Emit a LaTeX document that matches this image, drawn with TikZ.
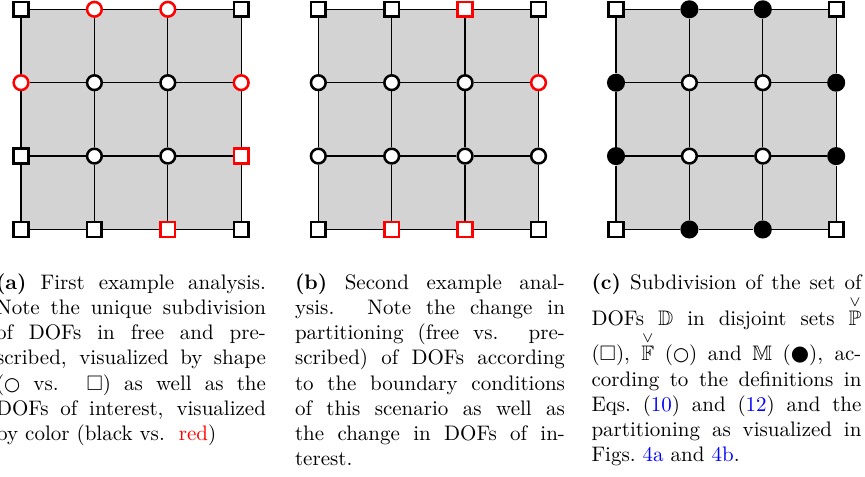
\documentclass[tikz,border=0pt]{standalone}
\usepackage{fontspec}
\usepackage{amsmath,amssymb}
\usetikzlibrary{backgrounds}

\newfontfamily\symbfont{DejaVu Sans}
\definecolor{meshgray}{RGB}{211,211,211}

\newcommand{\nodescl}{1}
\newcommand{\edgescl}{73.4}
\newcommand{\pn}{\node[rectangle, draw, line width=1.2pt, minimum size=7pt, inner sep=0pt, fill=white, scale=\nodescl]}
\newcommand{\fn}{\node[circle, draw, line width=1.2pt, minimum size=7pt, inner sep=0pt, fill=white, scale=\nodescl]}
\newcommand{\mn}{\node[circle, fill=black, minimum size=8.6pt, inner sep=0pt, scale=\nodescl]}
\newcommand{\Pn}{\pn[draw=red]}
\newcommand{\Fn}{\fn[draw=red]}
\newcommand{\coordscl}[1] {#1*\edgescl}

% gray cells and mesh lines of one 4x4 grid, nodes #10 .. #115
\newcommand{\meshfill}[1]{\begin{scope}[on background layer]
    \fill[meshgray] (#10.center) rectangle (#115.center);
  \end{scope}}
\newcommand{\meshedges}[1]{\draw[line width=0.6pt]
    (#10) -- (#11)  (#11) -- (#12)  (#12) -- (#13)
    (#14) -- (#15)  (#15) -- (#16)  (#16) -- (#17)
    (#18) -- (#19)  (#19) -- (#110) (#110) -- (#111)
    (#112) -- (#113) (#113) -- (#114) (#114) -- (#115)
    (#10) -- (#14)  (#14) -- (#18)  (#18) -- (#112)
    (#11) -- (#15)  (#15) -- (#19)  (#19) -- (#113)
    (#12) -- (#16)  (#16) -- (#110) (#110) -- (#114)
    (#13) -- (#17)  (#17) -- (#111) (#111) -- (#115)
    ;}

\newcommand{\ocirc}{\scalebox{0.88}{\symbfont\bfseries ○}}
\newcommand{\bcirc}{{\symbfont ●}}

\tikzset{captext/.style={anchor=north, inner sep=0pt, text width=128.5pt, align=justify, font=\normalsize}}

\begin{document}
\begin{tikzpicture}[x=0.476pt, y=0.476pt]
            \useasboundingbox (0,0) rectangle (865,477);

            % (a) first analysis
            \begin{scope}[shift={(21,247.5)}]
            \pn (a0) at (\coordscl{0}, \coordscl{0}) {};
            \pn (a1) at (\coordscl{1}, \coordscl{0}) {};
            \Pn (a2) at (\coordscl{2}, \coordscl{0}) {};
            \pn (a3) at (\coordscl{3}, \coordscl{0}) {};
            \pn (a4) at (\coordscl{0}, \coordscl{1}) {};
            \fn (a5) at (\coordscl{1}, \coordscl{1}) {};
            \fn (a6) at (\coordscl{2}, \coordscl{1}) {};
            \Pn (a7) at (\coordscl{3}, \coordscl{1}) {};
            \Fn (a8) at (\coordscl{0}, \coordscl{2}) {};
            \fn (a9) at (\coordscl{1}, \coordscl{2}) {};
            \fn (a10) at (\coordscl{2}, \coordscl{2}) {};
            \Fn (a11) at (\coordscl{3}, \coordscl{2}) {};
            \pn (a12) at (\coordscl{0}, \coordscl{3}) {};
            \Fn (a13) at (\coordscl{1}, \coordscl{3}) {};
            \Fn (a14) at (\coordscl{2}, \coordscl{3}) {};
            \pn (a15) at (\coordscl{3}, \coordscl{3}) {};
            \meshfill{a}
            \meshedges{a}
            \end{scope}

            % (b) second analysis
            \begin{scope}[shift={(318.3,247.5)}]
            \pn (b0) at (\coordscl{0}, \coordscl{0}) {};
            \Pn (b1) at (\coordscl{1}, \coordscl{0}) {};
            \Pn (b2) at (\coordscl{2}, \coordscl{0}) {};
            \pn (b3) at (\coordscl{3}, \coordscl{0}) {};
            \fn (b4) at (\coordscl{0}, \coordscl{1}) {};
            \fn (b5) at (\coordscl{1}, \coordscl{1}) {};
            \fn (b6) at (\coordscl{2}, \coordscl{1}) {};
            \fn (b7) at (\coordscl{3}, \coordscl{1}) {};
            \fn (b8) at (\coordscl{0}, \coordscl{2}) {};
            \fn (b9) at (\coordscl{1}, \coordscl{2}) {};
            \fn (b10) at (\coordscl{2}, \coordscl{2}) {};
            \Fn (b11) at (\coordscl{3}, \coordscl{2}) {};
            \pn (b12) at (\coordscl{0}, \coordscl{3}) {};
            \pn (b13) at (\coordscl{1}, \coordscl{3}) {};
            \Pn (b14) at (\coordscl{2}, \coordscl{3}) {};
            \pn (b15) at (\coordscl{3}, \coordscl{3}) {};
            \meshfill{b}
            \meshedges{b}
            \end{scope}

            % (c) subdivision
            \begin{scope}[shift={(616,247.5)}]
            \pn (c0) at (\coordscl{0}, \coordscl{0}) {};
            \mn (c1) at (\coordscl{1}, \coordscl{0}) {};
            \mn (c2) at (\coordscl{2}, \coordscl{0}) {};
            \pn (c3) at (\coordscl{3}, \coordscl{0}) {};
            \mn (c4) at (\coordscl{0}, \coordscl{1}) {};
            \fn (c5) at (\coordscl{1}, \coordscl{1}) {};
            \fn (c6) at (\coordscl{2}, \coordscl{1}) {};
            \mn (c7) at (\coordscl{3}, \coordscl{1}) {};
            \mn (c8) at (\coordscl{0}, \coordscl{2}) {};
            \fn (c9) at (\coordscl{1}, \coordscl{2}) {};
            \fn (c10) at (\coordscl{2}, \coordscl{2}) {};
            \mn (c11) at (\coordscl{3}, \coordscl{2}) {};
            \pn (c12) at (\coordscl{0}, \coordscl{3}) {};
            \mn (c13) at (\coordscl{1}, \coordscl{3}) {};
            \mn (c14) at (\coordscl{2}, \coordscl{3}) {};
            \pn (c15) at (\coordscl{3}, \coordscl{3}) {};
            \meshfill{c}
            \meshedges{c}
            \end{scope}

            \node[captext] (capa) at (131,204) {\textbf{(a)} First example analysis.\linebreak
                Note the unique subdivision\linebreak
                of DOFs in free and pre-\linebreak
                scribed, visualized by shape\linebreak
                (\ocirc{} vs. $\square$) as well as the\linebreak
                DOFs of interest, visualized\linebreak
                by color (black vs.\ \ \textcolor{red}{red})};
            \node[captext] (capb) at (430,204) {\textbf{(b)} Second example anal-\linebreak
                ysis. Note the change in\linebreak
                partitioning (free vs. pre-\linebreak
                scribed) of DOFs according\linebreak
                to the boundary conditions\linebreak
                of this scenario as well as\linebreak
                the change in DOFs of in-\linebreak
                terest.};
            \node[captext] (capc) at (726.5,204) {\textbf{(c)} Subdivision of the set of\linebreak
                DOFs $\mathbb{D}$ in disjoint sets $\overset{\vee}{\mathbb{P}}$\linebreak
                ($\square$), $\overset{\vee}{\mathbb{F}}$ (\ocirc) and $\mathbb{M}$ (\bcirc), ac-\linebreak
                cording to the definitions in\linebreak
                Eqs.\ (\textcolor{blue}{10}) and (\textcolor{blue}{12}) and the\linebreak
                partitioning as visualized in\linebreak
                Figs.\ \textcolor{blue}{4a} and \textcolor{blue}{4b}.};
        \end{tikzpicture}
\end{document}
